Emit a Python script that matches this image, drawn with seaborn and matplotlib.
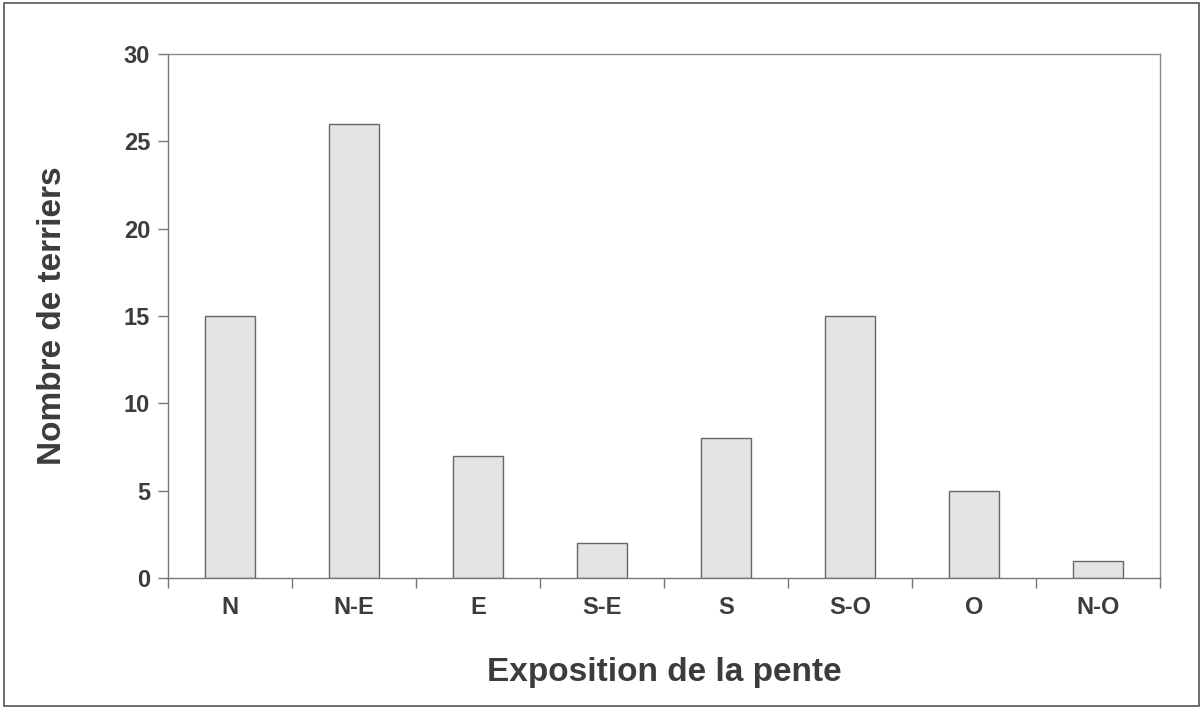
import numpy as np
import pandas as pd
import seaborn as sns
import matplotlib.pyplot as plt
from matplotlib.patches import Rectangle

# exposition of the slope vs number of burrows
expositions = ['N', 'N-E', 'E', 'S-E', 'S', 'S-O', 'O', 'N-O']
terriers = [15, 26, 7, 2, 8, 15, 5, 1]

df = pd.DataFrame({'exposition': expositions, 'terriers': terriers})

sns.set_theme(style="white")
plt.rcParams['font.family'] = ['Liberation Sans', 'DejaVu Sans']
text_col = '#3c3c3c'

fig = plt.figure(figsize=(12.03, 7.12), dpi=100)
ax = fig.add_axes([0.1397, 0.1882, 0.8246, 0.736])

sns.barplot(data=df, x='exposition', y='terriers', order=expositions,
            color='#e4e4e4', edgecolor='#666666', linewidth=1.0,
            width=0.41, saturation=1, ax=ax)

ax.set_xlim(-0.5, len(expositions) - 0.5)
ax.set_ylim(0, 30)
ax.set_yticks(range(0, 31, 5))

# tick marks between categories, like the spreadsheet chart
ax.set_xticks(np.arange(-0.5, len(expositions) + 0.5, 1), minor=True)
ax.tick_params(axis='x', which='major', bottom=True, length=0, pad=13,
               labelsize=17, labelcolor=text_col)
ax.tick_params(axis='x', which='minor', bottom=True, length=7, width=1,
               color='#777777', direction='out')
ax.tick_params(axis='y', left=True, length=7, width=1, color='#777777',
               direction='out', labelsize=17, labelcolor=text_col, pad=6)
for lab in ax.get_xticklabels() + ax.get_yticklabels():
    lab.set_fontweight('bold')

for side in ['left', 'right', 'top', 'bottom']:
    ax.spines[side].set_visible(True)
    ax.spines[side].set_color('#8a8a8a')
    ax.spines[side].set_linewidth(1.0)
ax.spines['left'].set_color('#777777')
ax.spines['bottom'].set_color('#777777')

ax.set_xlabel('Exposition de la pente', fontsize=24, fontweight='bold',
              color=text_col, labelpad=27)
ax.set_ylabel('Nombre de terriers', fontsize=24, fontweight='bold',
              color=text_col, labelpad=40)

# outer frame around the whole chart
fig.patches.append(Rectangle((0.003, 0.008), 0.994, 0.988, transform=fig.transFigure,
                             fill=False, edgecolor='#555555', linewidth=1.2))

plt.savefig('out.png', dpi=100)
